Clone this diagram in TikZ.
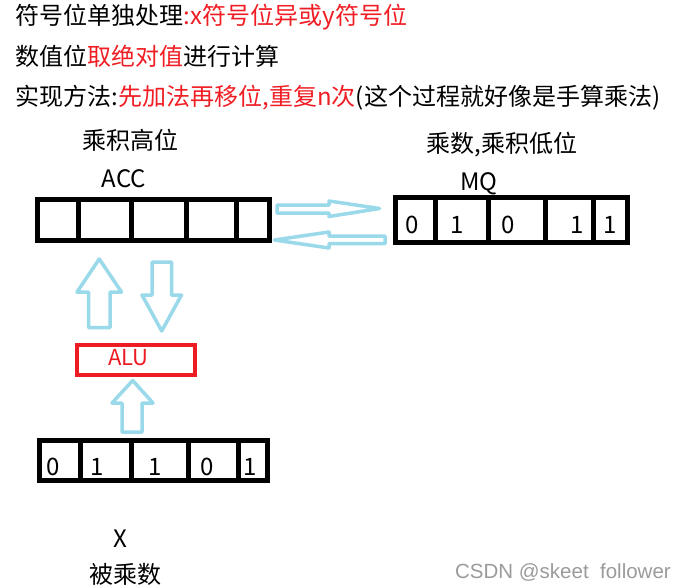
\documentclass[tikz,border=0pt]{standalone}
\usepackage{fontspec}
\setmainfont{Noto Sans CJK SC}
\newfontfamily\wmfont{Liberation Sans}
\definecolor{txtred}{RGB}{240,30,36}
\definecolor{alured}{RGB}{237,28,36}
\definecolor{arrowblue}{RGB}{153,217,234}
\definecolor{wmgray}{RGB}{155,155,155}
\begin{document}
\begin{tikzpicture}[x=1pt,y=-1pt,
  big/.style={font=\fontsize{24}{28}\selectfont, inner sep=0pt, outer sep=0pt},
  regbox/.style={draw=black, line width=5pt, inner sep=0pt, outer sep=0pt},
  regline/.style={draw=black, line width=5pt},
  alubox/.style={draw=alured, line width=4pt, inner sep=0pt, outer sep=0pt},
  blockarrow/.style={draw=arrowblue, line width=3.5pt, line join=round, fill=white}]
\fill[white] (0,0) rectangle (677,587);
\useasboundingbox (0,0) rectangle (677,587);

% heading lines
\node[big, anchor=base west] (l1) at (16,24) {符号位单独处理\textcolor{txtred}{:x符号位异或y符号位}};
\node[big, anchor=base west] (l2) at (16,65) {数值位\textcolor{txtred}{取绝对值}进行计算};
\node[big, anchor=base west] (l3) at (16,105) {实现方法:\textcolor{txtred}{先加法再移位,重复n次}(这个过程就好像是手算乘法)};

% labels
\node[big] (acclab) at (130,140) {乘积高位};
\node[big] (accname) at (124,178.5) {ACC};
\node[big] (mqlab) at (502,145) {乘数,乘积低位};
\node[big] (mqname) at (479,184) {MQ};
\node[big] (xname) at (120,538.5) {X};
\node[big] (xlab) at (125,574.5) {被乘数};

% ACC register
\node[regbox, minimum width=232pt, minimum height=41pt] (acc) at (153.5,220) {};
\draw[regline] (78.3,199.5) -- (78.3,240.5);
\draw[regline] (131.7,199.5) -- (131.7,240.5);
\draw[regline] (186.7,199.5) -- (186.7,240.5);
\draw[regline] (236.7,199.5) -- (236.7,240.5);

% MQ register
\node[regbox, minimum width=232pt, minimum height=45pt] (mq) at (511.5,220) {};
\draw[regline] (435,197.5) -- (435,242.5);
\draw[regline] (488.3,197.5) -- (488.3,242.5);
\draw[regline] (545,197.5) -- (545,242.5);
\draw[regline] (593.3,197.5) -- (593.3,242.5);
\node[big] (mq1) at (411.7,225) {0};
\node[big] (mq2) at (456.7,225) {1};
\node[big] (mq3) at (508.3,225) {0};
\node[big] (mq4) at (576.7,225) {1};
\node[big] (mq5) at (610,225) {1};

% X register
\node[regbox, minimum width=228pt, minimum height=40pt] (xreg) at (153.5,460.8) {};
\draw[regline] (80,440.8) -- (80,480.8);
\draw[regline] (131.7,440.8) -- (131.7,480.8);
\draw[regline] (188.3,440.8) -- (188.3,480.8);
\draw[regline] (238.3,440.8) -- (238.3,480.8);
\node[big] (x1) at (53.3,466.7) {0};
\node[big] (x2) at (96.7,466.7) {1};
\node[big] (x3) at (155,466.7) {1};
\node[big] (x4) at (206.7,466.7) {0};
\node[big] (x5) at (250,466.7) {1};

% ALU
\node[alubox, minimum width=117.7pt, minimum height=30pt] (alu) at (135.85,360.3) {};
\node[font=\fontsize{22}{26}\selectfont, text=alured, inner sep=0pt] (alutext) at (128.3,358) {ALU};

% block arrows
% ACC -> MQ
\draw[blockarrow] (277,205) -- (329,205) -- (329,201) -- (379.5,208.5) -- (329,216.5) -- (329,213) -- (277,213) -- cycle;
% MQ -> ACC
\draw[blockarrow] (385,236) -- (329,236) -- (329,232) -- (274.5,240) -- (329,248) -- (329,243.5) -- (385,243.5) -- cycle;
% ALU -> ACC (up)
\draw[blockarrow] (88.5,327.5) -- (88.5,292) -- (77,292) -- (99.3,259) -- (121.5,292) -- (110,292) -- (110,327.5) -- cycle;
% ACC -> ALU (down)
\draw[blockarrow] (152,262) -- (171.5,262) -- (171.5,295) -- (181.5,295) -- (161.7,331) -- (142,295) -- (152,295) -- cycle;
% X -> ALU (up)
\draw[blockarrow] (122,432) -- (122,403) -- (112,403) -- (132.7,380.5) -- (153,403) -- (142,403) -- (142,432) -- cycle;

% watermark
\node[font=\wmfont\fontsize{20.5}{24}\selectfont, text=wmgray, inner sep=0pt, anchor=base east] (wm) at (671,578) {CSDN @skeet\ \ follower};
\end{tikzpicture}
\end{document}
